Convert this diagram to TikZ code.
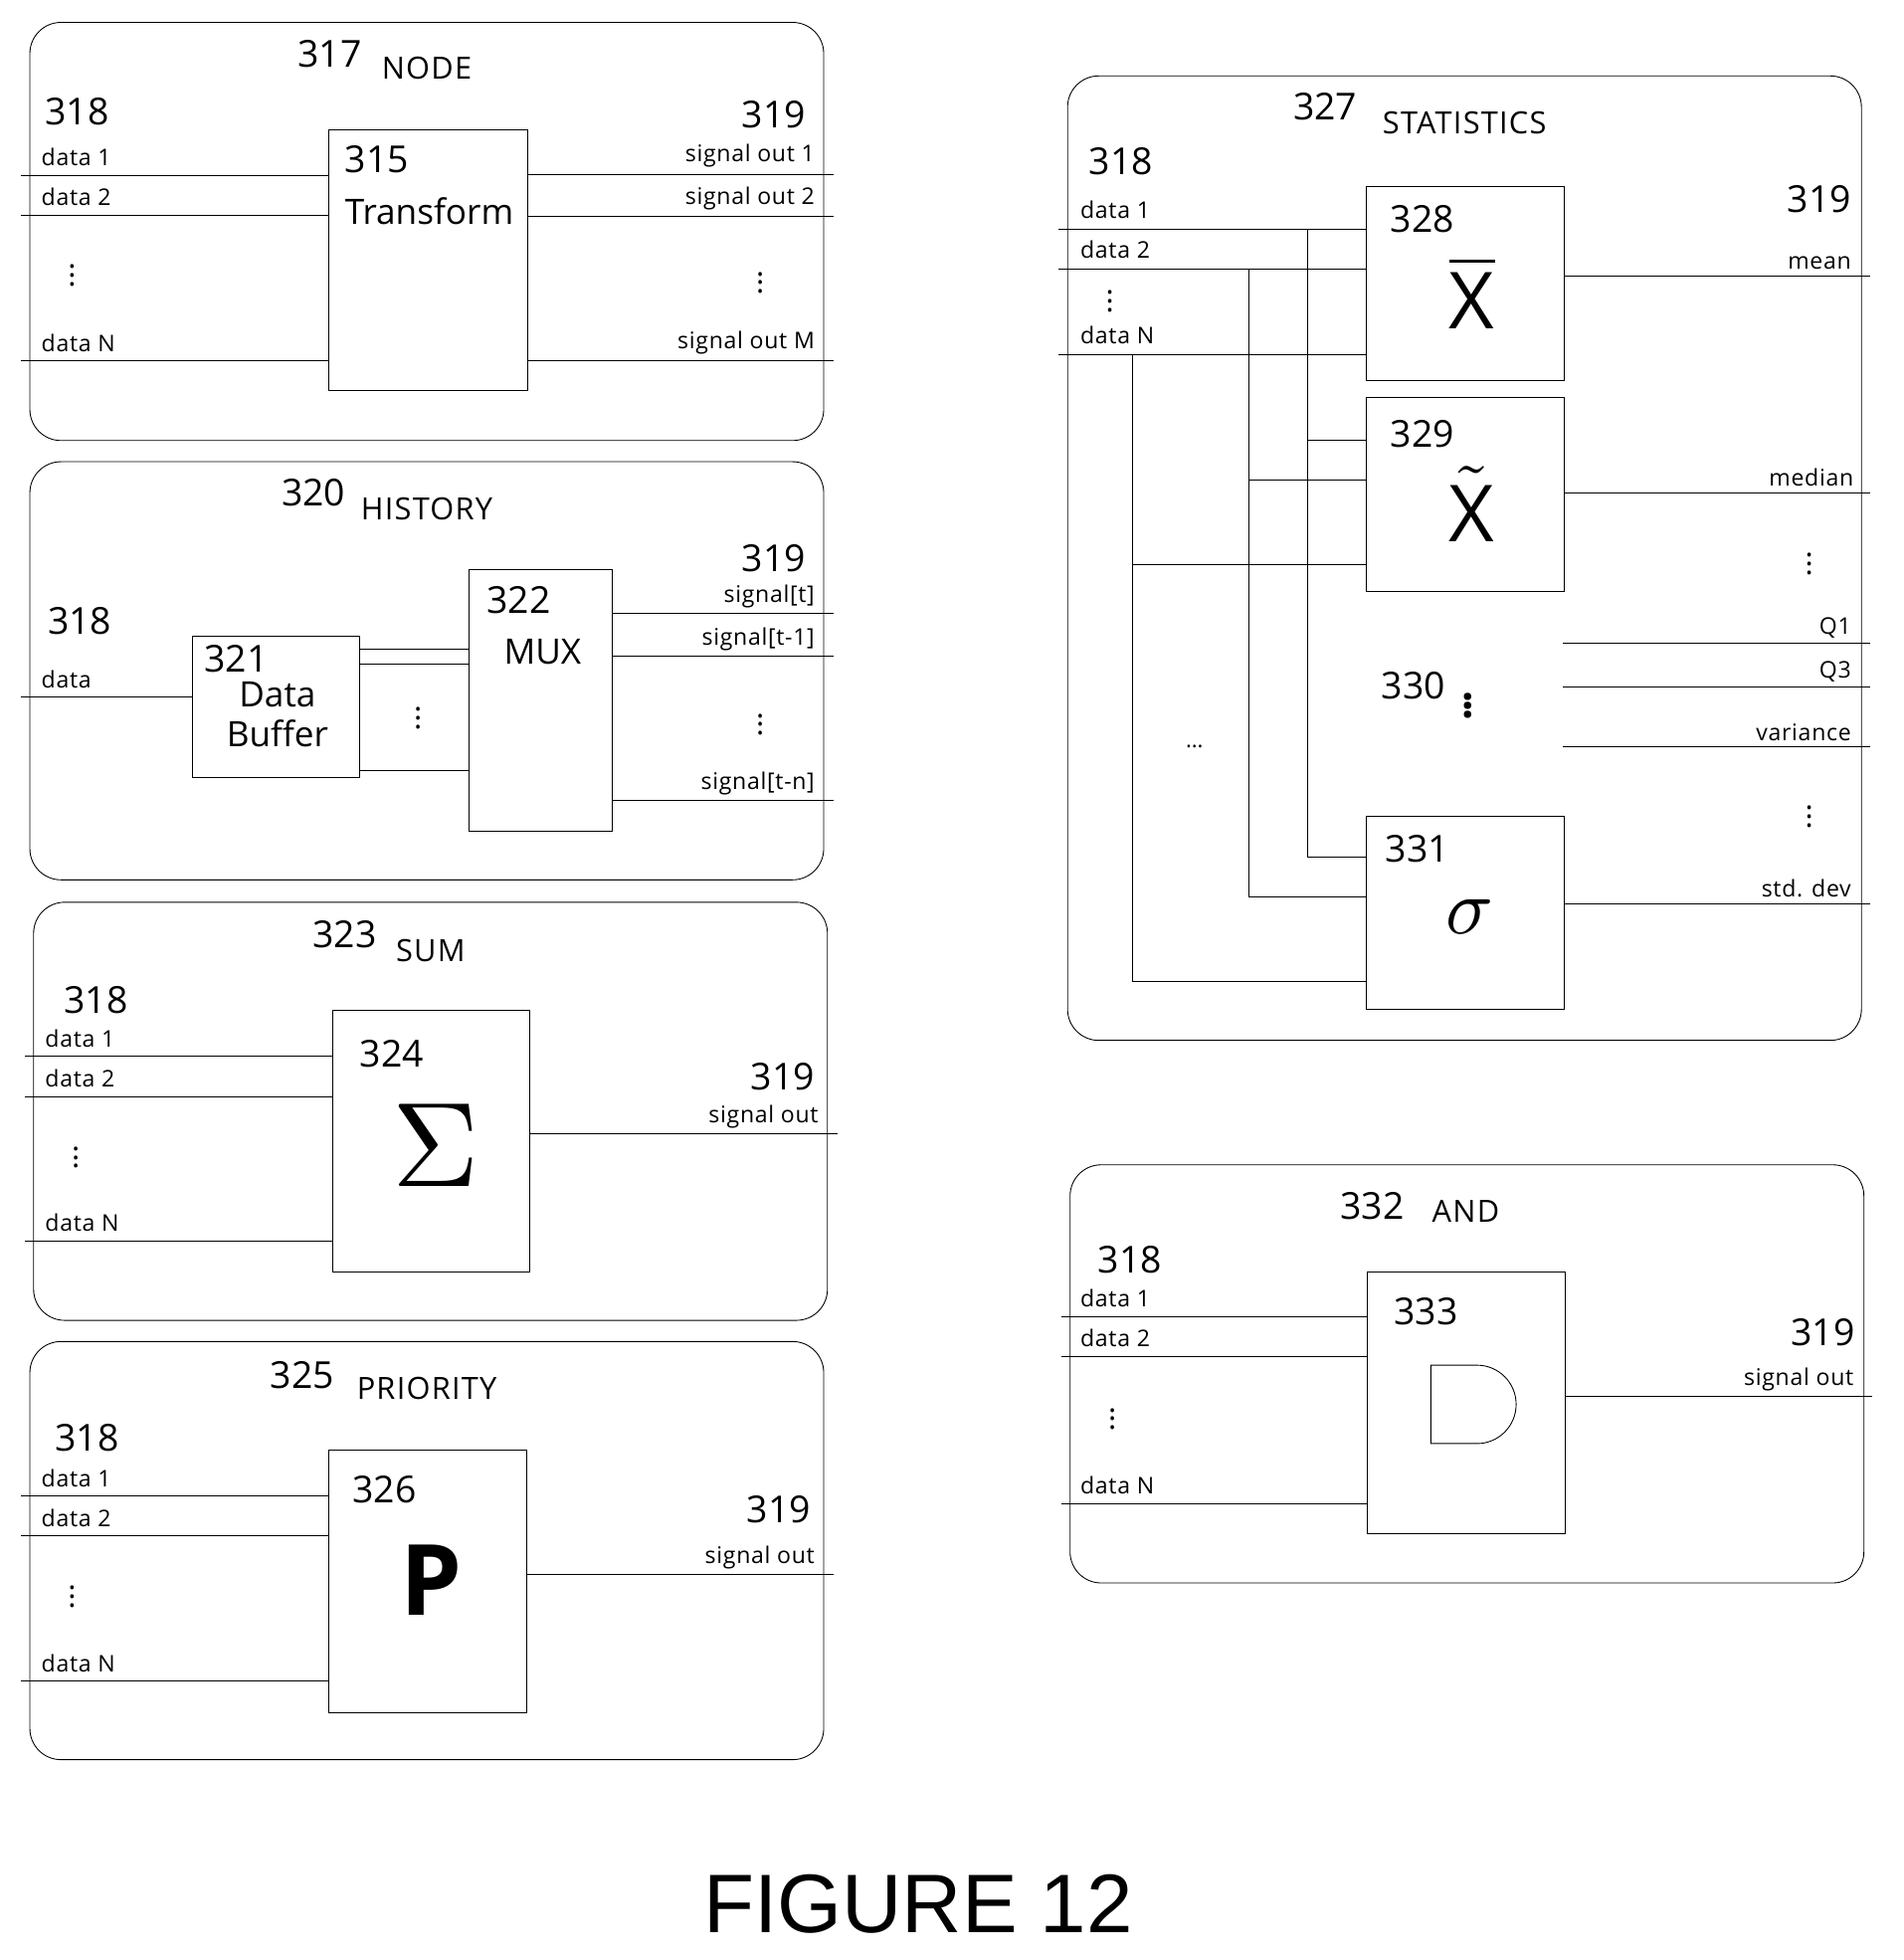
\documentclass[tikz,border=0pt]{standalone}
\usepackage{fontspec}
\setmainfont{Open Sans}
\usepackage{graphicx}
\usetikzlibrary{positioning}
\tikzstyle{panel}=[draw,thin,rounded corners=0.5cm]
\tikzstyle{box}=[draw,thin,inner sep=0pt]
\tikzstyle{num}=[font=\fontsize{17}{18}\selectfont,inner sep=0pt]
\tikzstyle{ttl}=[font=\fontsize{14}{15}\selectfont\addfontfeature{LetterSpace=4},inner sep=0pt]
\tikzstyle{lbl}=[font=\fontsize{10.5}{11}\selectfont\addfontfeature{LetterSpace=3},inner sep=0pt]
\tikzstyle{txt}=[font=\fontsize{16}{17}\selectfont,inner sep=0pt]
\tikzstyle{wire}=[thin]
\newcommand{\vdotsat}[2]{\node[inner sep=0pt] (#1) at (#2) {\fontsize{14}{14}\selectfont$\vdots$};}
\begin{document}
\begin{tikzpicture}[x=0.02cm,y=-0.02cm]
\useasboundingbox (0,0) rectangle (1530,1575);

% NODE
\draw[panel] (24,18) rectangle (662,354);
\node[num] (n317) at (265,43) {317};
\node[ttl] (tnode) at (343,55) {NODE};
\node[num] (n318a) at (62,90) {318};
\node[num] (n319a) at (622,92) {319};
\node[box,minimum width=3.2cm,minimum height=4.2cm] (t315) at (344,209) {};
\node[num] (n315) at (303,128) {315};
\node[txt] (ttr) at (345,170) {Transform};
\foreach \y/\t in {141/data 1,173/data 2,290/data N}{
  \coordinate (in) at (17,\y);
  \draw[wire] (in) -- (t315.west |- in);
  \node[lbl,anchor=south west] at (33,\y-7) {\t};}
\foreach \y/\t in {140/signal out 1,174/signal out 2,290/signal out M}{
  \coordinate (out) at (670,\y);
  \draw[wire] (t315.east |- out) -- (out);
  \node[lbl,anchor=south east] at (655,\y-5) {\t};}
\vdotsat{d1}{58,216}
\vdotsat{d2}{611,222}

% HISTORY
\draw[panel] (24,371) rectangle (662,707);
\node[num] (n320) at (252,396) {320};
\node[ttl] (this) at (343,409) {HISTORY};
\node[num] (n318b) at (64,499) {318};
\node[num] (n319b) at (622,449) {319};
\node[lbl,anchor=south west] at (33,553) {data};
\node[box,minimum width=2.68cm,minimum height=2.28cm] (b321) at (222,568) {};
\node[box,minimum width=2.3cm,minimum height=4.2cm] (m322) at (434.5,563) {};
\coordinate (hin) at (17,560);
\draw[wire] (hin) -- (b321.west |- hin);
\node[num] (n321) at (190,529) {321};
\node[txt] at (223,558) {Data};
\node[txt] at (223,589) {Buffer};
\node[num] (n322) at (417,482) {322};
\node[txt] at (436,524) {MUX};
\foreach \y in {522,534,619}{
  \coordinate (bm) at (300,\y);
  \draw[wire] (b321.east |- bm) -- (m322.west |- bm);}
\vdotsat{d3}{336,572}
\foreach \y/\t in {493/{signal[t]},527/{signal[t-1]},643/{signal[t-n]}}{
  \coordinate (out) at (670,\y);
  \draw[wire] (m322.east |- out) -- (out);
  \node[lbl,anchor=south east] at (655,\y-4) {\t};}
\vdotsat{d4}{611,577}

% SUM
\draw[panel] (27,725) rectangle (665,1061);
\node[num] (n323) at (277,751) {323};
\node[ttl] (tsum) at (346,764) {SUM};
\node[num] (n318c) at (77,804) {318};
\node[num] (n319c) at (629,865) {319};
\node[box,minimum width=3.18cm,minimum height=4.2cm] (s324) at (346.5,917) {};
\node[num] (n324) at (315,847) {324};
\node (sig) at (350,920) {\scalebox{5.5}{$\Sigma$}};
\foreach \y/\t in {849/data 1,881/data 2,997/data N}{
  \coordinate (in) at (20,\y);
  \draw[wire] (in) -- (s324.west |- in);
  \node[lbl,anchor=south west] at (36,\y-7) {\t};}
\coordinate (sout) at (673,911);
\draw[wire] (s324.east |- sout) -- (sout);
\node[lbl,anchor=south east] at (658,907) {signal out};
\vdotsat{d5}{61,925}

% PRIORITY
\draw[panel] (24,1078) rectangle (662,1414);
\node[num] (n325) at (243,1105) {325};
\node[ttl] (tpri) at (343,1116) {PRIORITY};
\node[num] (n318d) at (70,1155) {318};
\node[num] (n319d) at (626,1213) {319};
\node[box,minimum width=3.18cm,minimum height=4.22cm] (p326) at (343.5,1270.5) {};
\node[num] (n326) at (309,1197) {326};
\node (pp) at (347,1270) {\scalebox{4.5}{$\mathbf{P}$}};
\foreach \y/\t in {1202/data 1,1234/data 2,1351/data N}{
  \coordinate (in) at (17,\y);
  \draw[wire] (in) -- (p326.west |- in);
  \node[lbl,anchor=south west] at (33,\y-7) {\t};}
\coordinate (pout) at (670,1265);
\draw[wire] (p326.east |- pout) -- (pout);
\node[lbl,anchor=south east] at (655,1261) {signal out};
\vdotsat{d6}{58,1278}

% STATISTICS
\draw[panel] (858,61) rectangle (1496,836);
\node[num] (n327) at (1065,86) {327};
\node[ttl] (tstat) at (1177,99) {STATISTICS};
\node[num] (n318e) at (901,130) {318};
\node[num] (n319e) at (1462,160) {319};
\node[box,minimum width=3.18cm,minimum height=3.12cm] (x328) at (1177.5,228) {};
\node[box,minimum width=3.18cm,minimum height=3.12cm] (x329) at (1177.5,397) {};
\node[box,minimum width=3.18cm,minimum height=3.1cm] (s331) at (1177.5,733.5) {};
\node[num] (n328) at (1143,176) {328};
\node (xbar) at (1183,235) {\scalebox{3.6}{$\overline{\mathrm{X}}$}};
\node[num] (n329) at (1143,349) {329};
\node (xtil) at (1183,405) {\scalebox{3.6}{$\tilde{\mathrm{X}}$}};
\node[num] (n331) at (1139,682) {331};
\node (sg) at (1181,737) {\scalebox{3.6}{$\sigma$}};
\node[num] (n330) at (1136,551) {330};
\node[inner sep=0pt] (d330) at (1180,562) {\fontsize{20}{20}\selectfont\textbf{$\vdots$}};
\foreach \y/\t in {184/data 1,216/data 2,285/data N}{
  \coordinate (in) at (851,\y);
  \draw[wire] (in) -- (x328.west |- in);
  \node[lbl,anchor=south west] at (868,\y-8) {\t};}
\vdotsat{d7}{892,237}
\draw[wire] (1051,184) |- (s331.west |- {(0,689)});
\draw[wire] (1051,354) -- (x329.west |- {(0,354)});
\draw[wire] (1004,216) |- (s331.west |- {(0,721)});
\draw[wire] (1004,386) -- (x329.west |- {(0,386)});
\draw[wire] (910,285) |- (s331.west |- {(0,789)});
\draw[wire] (910,454) -- (x329.west |- {(0,454)});
\node (ell) at (960,600) {...};
\coordinate (omean) at (1503,222);
\draw[wire] (x328.east |- omean) -- (omean);
\node[lbl,anchor=south east] at (1488,217) {mean};
\coordinate (omed) at (1503,396);
\draw[wire] (x329.east |- omed) -- (omed);
\node[lbl,anchor=south east] at (1490,391) {median};
\foreach \y/\t in {517/Q1,552/Q3,600/variance}{
  \coordinate (out) at (1503,\y);
  \draw[wire] (1256,\y) -- (out);
  \node[lbl,anchor=south east] at (1488,\y-4) {\t};}
\coordinate (osd) at (1503,726);
\draw[wire] (s331.east |- osd) -- (osd);
\node[lbl,anchor=south east] at (1488,721) {std. dev};
\vdotsat{d8}{1454,448}
\vdotsat{d9}{1454,651}

% AND
\draw[panel] (860,936) rectangle (1498,1272);
\node[num] (n332) at (1103,969) {332};
\node[ttl] (tand) at (1178,973) {AND};
\node[num] (n318f) at (908,1012) {318};
\node[num] (n319f) at (1465,1071) {319};
\node[box,minimum width=3.18cm,minimum height=4.2cm] (a333) at (1178.5,1127) {};
\node[num] (n333) at (1146,1054) {333};
\draw[thin] (1150,1097) -- (1187,1097) arc[start angle=-90,end angle=90,radius=31.5] -- (1150,1160) -- cycle;
\foreach \y/\t in {1058/data 1,1090/data 2,1208/data N}{
  \coordinate (in) at (853,\y);
  \draw[wire] (in) -- (a333.west |- in);
  \node[lbl,anchor=south west] at (868,\y-7) {\t};}
\coordinate (aout) at (1505,1122);
\draw[wire] (a333.east |- aout) -- (aout);
\node[lbl,anchor=south east] at (1490,1118) {signal out};
\vdotsat{d10}{894,1135}

\node[font=\fontspec{Liberation Sans}\fontsize{38}{40}\selectfont] (fig) at (738,1530) {FIGURE 12};
\end{tikzpicture}
\end{document}
